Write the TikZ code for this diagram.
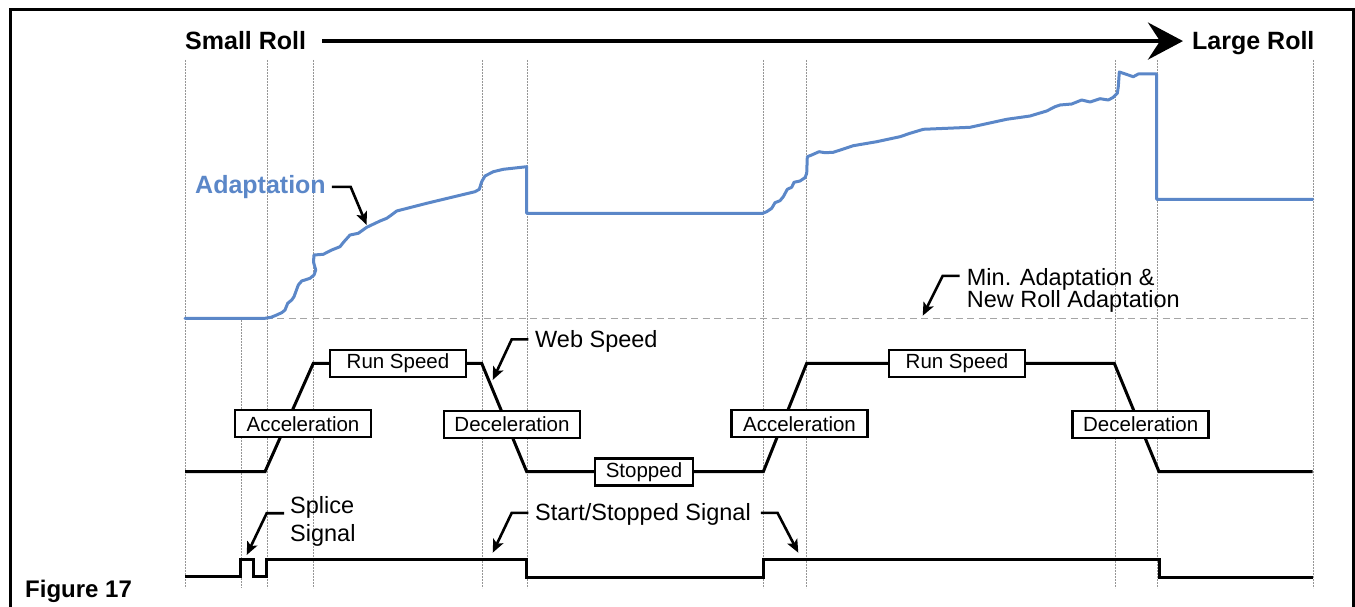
\documentclass[tikz,border=0pt]{standalone}
\usepackage{fontspec}
\setmainfont{Liberation Sans}
\usetikzlibrary{arrows.meta}
\definecolor{adapt}{RGB}{91,135,200}
\definecolor{gridgray}{RGB}{150,150,150}
\definecolor{mingray}{RGB}{165,165,165}
\begin{document}
\begin{tikzpicture}[x=1pt,y=-1pt,
  grid/.style={draw=gridgray, line width=0.8pt, dash pattern=on 1.6pt off 1.4pt},
  trace/.style={draw=black, line width=3pt, line join=miter},
  phase/.style={draw=black, line width=2.5pt, fill=white, inner sep=0pt,
    minimum height=27pt, font=\fontsize{20.5}{24}\selectfont},
  note/.style={inner sep=0pt, anchor=base west, font=\fontsize{23.5}{27}\selectfont},
  lead/.style={draw=black, line width=2.6pt, line join=miter,
    -{Stealth[length=13pt,width=11pt,inset=3pt]}},
  big/.style={inner sep=0pt, anchor=base west, font=\fontsize{25}{30}\selectfont\bfseries},
]
\useasboundingbox (0,0) rectangle (1355,607);

% frame (open at the bottom)
\draw[line width=2.5pt] (10.5,612) -- (10.5,9.5) -- (1353.5,9.5) -- (1353.5,612);

% time grid
\foreach \x in {185,267,313,482,527,763,806,1115,1157,1313}
  \draw[grid] (\x,60) -- (\x,588);
\draw[grid] (241,320) -- (241,588);

% roll size axis
\node[big] (sroll) at (185,50) {Small Roll};
\node[big] (lroll) at (1192,50) {Large Roll};
\draw[line width=4pt, shorten <=16pt, shorten >=9pt,
  -{Stealth[length=35pt,width=37pt,inset=12pt]}]
  (sroll.east) -- (sroll.east -| lroll.west);

% minimum / new roll adaptation level
\draw[draw=mingray, line width=1.6pt, dash pattern=on 7pt off 4.5pt] (185,318.3) -- (1313,318.3);

% adaptation curve
\draw[draw=adapt, line width=3pt, line join=round, line cap=round]
  (185,318.3) -- (265,318.3) -- (271,317.3) -- (276.7,315) -- (282,312.5) -- (285,310)
  -- (287.7,303.3) -- (291.7,300) -- (294,296.7) -- (298.3,285) -- (301.7,281)
  -- (310,278.3) -- (314,275) -- (315.7,270) -- (313.5,262) -- (314,255)
  -- (323.3,254.3) -- (331.7,250) -- (340,246.7) -- (344,241.7) -- (350,235)
  -- (358.3,233.3) -- (366.7,227.3) -- (380,221) -- (386.7,218.3) -- (390,216)
  -- (396.7,211) -- (403.3,209.3) -- (426.7,203.3) -- (450,197.7) -- (475,191.7)
  -- (479.3,189.3) -- (481.7,181.7) -- (485,176) -- (493.3,171.7) -- (503.3,169.3)
  -- (526.7,166.7) -- (526.7,213.3) -- (762.7,213.3) -- (766.7,211.7) -- (771.7,208.3)
  -- (775,202.7) -- (780,200.7) -- (783.3,196.7) -- (787.3,189.3) -- (791.7,187.3)
  -- (794,182.3) -- (800,181) -- (805,177.7) -- (806.7,173.3) -- (807.3,156.7)
  -- (811.7,155) -- (819,151.7) -- (825,152.7) -- (833.3,152.3) -- (853.3,145.7)
  -- (876.7,141.7) -- (900,136.7) -- (910,133.3) -- (923.3,129.3) -- (970,127.3)
  -- (1006.7,119.3) -- (1030,116) -- (1046.7,111) -- (1055,106.7) -- (1060,105)
  -- (1071.7,104) -- (1081.7,100) -- (1090,102) -- (1100,98.7) -- (1108.3,100)
  -- (1113.3,97.3) -- (1117.3,93.3) -- (1118.3,86.7) -- (1119.3,72) -- (1133.3,76.7)
  -- (1138.3,74) -- (1156.7,74) -- (1156.7,199.3) -- (1312.7,199.3);

% web speed trace
\draw[trace] (185,471.7) -- (265,471.7) -- (313.3,363.3) -- (481.7,363.3)
  -- (526.7,471.7) -- (763.3,471.7) -- (806.7,363.3) -- (1114.3,363.3)
  -- (1159,471.7) -- (1312.7,471.7);

% phase labels
\node[phase, minimum width=136pt] (rs1)  at (398,363.5)   {Run Speed};
\node[phase, minimum width=136pt] (acc1) at (303,423.7)   {Acceleration};
\node[phase, minimum width=136pt] (dec1) at (512,424.5)   {Deceleration};
\node[phase, minimum width=98pt]  (stop) at (644,472)     {Stopped};
\node[phase, minimum width=136pt] (acc2) at (799.5,423.7) {Acceleration};
\node[phase, minimum width=136pt] (rs2)  at (957,363.5)   {Run Speed};
\node[phase, minimum width=136pt] (dec2) at (1140.7,424.5) {Deceleration};

% splice and start/stopped signal
\draw[trace] (185,576.7) -- (240.7,576.7) -- (240.7,559.3) -- (253.3,559.3)
  -- (253.3,576.7) -- (266.7,576.7) -- (266.7,559.3) -- (526.7,559.3)
  -- (526.7,577) -- (763.3,577) -- (763.3,559.3) -- (1159,559.3)
  -- (1159,577) -- (1312.7,577);

% annotations
\node[big, text=adapt] (adl) at (195,193.3) {Adaptation};
\coordinate (adtip) at (366.7,225);
\draw[lead, shorten <=6pt] (adl.east) -- ++(24.7,0) -- (adtip);

\node[note] (mina) at (966.7,285) {Min. Adaptation \&};
\node[note] (minb) at (966.7,307.8) {New Roll Adaptation};
\coordinate (mintip) at (922.7,315.7);
\draw[lead, shorten <=7pt] ([yshift=3pt]mina.west) -- ++(-24,0) -- (mintip);

\node[note] (webl) at (535,347) {Web Speed};
\coordinate (webtip) at (492.7,380);
\draw[lead, shorten <=6.7pt] ([yshift=1.5pt]webl.west) -- ++(-23.3,0) -- (webtip);

\node[note] (spla) at (290,513.3) {Splice};
\node[note] (splb) at (290,541.5) {Signal};
\coordinate (spltip) at (246.7,555);
\draw[lead, shorten <=6pt] ([yshift=-6pt]spla.west) -- ++(-23.3,0) -- (spltip);

\node[note] (ssl) at (535,520) {Start/Stopped Signal};
\coordinate (ssltip) at (492.7,552.7);
\coordinate (ssrtip) at (798.3,552.7);
\draw[lead, shorten <=6.7pt] ([yshift=1pt]ssl.west) -- ++(-23.3,0) -- (ssltip);
\draw[lead, shorten <=10pt] ([yshift=1pt]ssl.east) -- ++(26.6,0) -- (ssrtip);

% caption
\node[inner sep=0pt, anchor=base west, font=\fontsize{24}{28}\selectfont\bfseries]
  (cap) at (25,597) {Figure 17};
\end{tikzpicture}
\end{document}
